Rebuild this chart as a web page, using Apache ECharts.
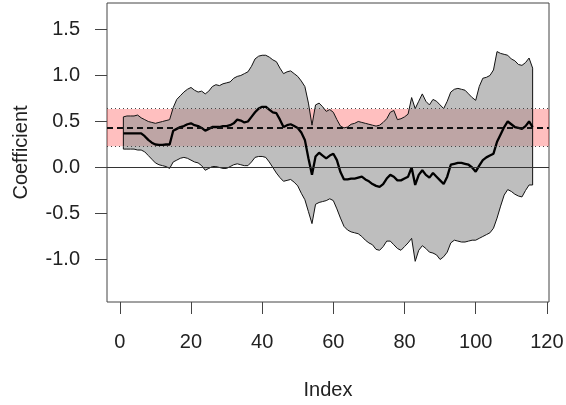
<!DOCTYPE html>
<html>
<head>
<meta charset="utf-8">
<script src="https://cdn.jsdelivr.net/npm/echarts@6/dist/echarts.min.js"></script>
<style>
  html, body { margin: 0; padding: 0; background: #fff; }
  #main { width: 566px; height: 405px; }
</style>
</head>
<body>
<div id="main"></div>
<script>
// values, index 1..116
var coef = [
    0.37, 0.37, 0.37, 0.37, 0.37, 0.37, 0.34, 0.30, 0.27, 0.25,
    0.245, 0.245, 0.25, 0.25, 0.40, 0.42, 0.44, 0.45, 0.47, 0.48,
    0.46, 0.45, 0.43, 0.40, 0.42, 0.44, 0.44, 0.44, 0.45, 0.45,
    0.46, 0.48, 0.52, 0.51, 0.49, 0.50, 0.55, 0.60, 0.64, 0.66,
    0.66, 0.63, 0.60, 0.59, 0.52, 0.44, 0.46, 0.47, 0.45, 0.43,
    0.38, 0.30, 0.10, -0.08, 0.12, 0.16, 0.13, 0.10, 0.13, 0.15,
    0.08, -0.05, -0.13, -0.13, -0.12, -0.12, -0.11, -0.10, -0.13, -0.15,
    -0.18, -0.20, -0.21, -0.18, -0.12, -0.08, -0.10, -0.14, -0.14, -0.12,
    -0.10, 0.00, -0.19, -0.08, -0.03, -0.08, -0.11, -0.06, -0.10, -0.14,
    -0.18, -0.10, 0.03, 0.04, 0.05, 0.05, 0.04, 0.03, 0.00, -0.045,
    0.02, 0.08, 0.11, 0.13, 0.15, 0.28, 0.36, 0.44, 0.50, 0.47,
    0.44, 0.43, 0.42, 0.45, 0.50, 0.44
];
var upper = [
    0.55, 0.56, 0.56, 0.56, 0.57, 0.54, 0.52, 0.50, 0.49, 0.48,
    0.49, 0.50, 0.51, 0.52, 0.65, 0.74, 0.78, 0.82, 0.85, 0.87,
    0.84, 0.82, 0.83, 0.80, 0.83, 0.88, 0.90, 0.89, 0.91, 0.92,
    0.93, 0.97, 0.99, 1.00, 1.02, 1.04, 1.10, 1.18, 1.21, 1.22,
    1.22, 1.20, 1.17, 1.15, 1.08, 1.02, 1.04, 1.05, 1.02, 0.99,
    0.94, 0.88, 0.70, 0.46, 0.68, 0.70, 0.66, 0.61, 0.63, 0.60,
    0.52, 0.45, 0.43, 0.44, 0.47, 0.48, 0.50, 0.49, 0.48, 0.47,
    0.46, 0.45, 0.46, 0.49, 0.53, 0.60, 0.62, 0.52, 0.53, 0.55,
    0.58, 0.76, 0.64, 0.72, 0.80, 0.72, 0.68, 0.74, 0.72, 0.68,
    0.64, 0.72, 0.82, 0.85, 0.86, 0.85, 0.84, 0.80, 0.76, 0.73,
    0.88, 0.97, 0.98, 1.00, 1.06, 1.26, 1.24, 1.23, 1.22, 1.18,
    1.16, 1.12, 1.11, 1.14, 1.19, 1.08
];
var lower = [
    0.20, 0.20, 0.20, 0.20, 0.19, 0.19, 0.17, 0.13, 0.09, 0.05,
    0.03, 0.02, 0.01, -0.01, 0.06, 0.08, 0.10, 0.11, 0.10, 0.08,
    0.06, 0.05, 0.02, -0.03, -0.01, 0.01, 0.01, 0.00, -0.01, -0.01,
    0.01, 0.03, 0.04, 0.03, 0.02, 0.02, 0.06, 0.11, 0.12, 0.12,
    0.11, 0.06, 0.00, -0.06, -0.11, -0.15, -0.14, -0.13, -0.16, -0.20,
    -0.28, -0.35, -0.48, -0.61, -0.40, -0.38, -0.37, -0.36, -0.34, -0.36,
    -0.45, -0.55, -0.64, -0.68, -0.70, -0.71, -0.72, -0.75, -0.79, -0.82,
    -0.84, -0.89, -0.90, -0.86, -0.80, -0.80, -0.84, -0.88, -0.90, -0.86,
    -0.82, -0.77, -1.02, -0.90, -0.85, -0.88, -0.92, -0.93, -0.95, -1.00,
    -0.97, -0.92, -0.82, -0.79, -0.80, -0.81, -0.81, -0.80, -0.79, -0.79,
    -0.77, -0.75, -0.73, -0.71, -0.66, -0.55, -0.42, -0.30, -0.24, -0.26,
    -0.29, -0.31, -0.32, -0.25, -0.19, -0.19
];
var bandLow = 0.23;
var bandHigh = 0.635;
var bandMean = 0.433;
var xTicks = [0, 20, 40, 60, 80, 100, 120];
var yTicks = [-1.0, -0.5, 0.0, 0.5, 1.0, 1.5];

var index = coef.map(function (v, i) { return i + 1; });
var coefData = coef.map(function (v, i) { return [index[i], v]; });

var chart = echarts.init(document.getElementById('main'));

var font = "'Liberation Sans', Arial, sans-serif";

var option = {
    animation: false,
    grid: {
        left: 107, right: 17, top: 3, bottom: 103,
        outerBoundsMode: 'none',
        show: true,
        borderColor: '#444',
        borderWidth: 1,
        backgroundColor: 'transparent'
    },
    xAxis: {
        type: 'value',
        min: -3.6,
        max: 120.6,
        name: 'Index',
        nameLocation: 'middle',
        nameGap: 78,
        nameTextStyle: { fontFamily: font, fontSize: 20, color: '#222' },
        axisLine: { show: false, onZero: false },
        splitLine: { show: false },
        axisTick: {
            show: true, inside: false, length: 12,
            customValues: xTicks,
            lineStyle: { color: '#444', width: 1 }
        },
        axisLabel: {
            customValues: xTicks,
            margin: 30,
            fontFamily: font, fontSize: 20, color: '#222'
        }
    },
    yAxis: {
        type: 'value',
        min: -1.462,
        max: 1.788,
        name: 'Coefficient',
        nameLocation: 'middle',
        nameGap: 76,
        nameRotate: 90,
        nameTextStyle: { fontFamily: font, fontSize: 20, color: '#222' },
        axisLine: { show: false, onZero: false },
        splitLine: { show: false },
        axisTick: {
            show: true, inside: false, length: 12,
            customValues: yTicks,
            lineStyle: { color: '#444', width: 1 }
        },
        axisLabel: {
            customValues: yTicks,
            margin: 27,
            fontFamily: font, fontSize: 20, color: '#222',
            formatter: function (v) { return v.toFixed(1); }
        }
    },
    series: [
        {
            // pink reference band under everything
            type: 'line',
            data: [],
            z: 1,
            markArea: {
                silent: true,
                itemStyle: { color: 'rgba(255,0,0,0.25)' },
                data: [[{ yAxis: bandLow }, { yAxis: bandHigh }]]
            }
        },
        {
            // grey confidence polygon
            type: 'custom',
            z: 2,
            data: [[index[0], coef[0]]],
            renderItem: function (params, api) {
                var pts = [];
                for (var i = 0; i < index.length; i++) {
                    pts.push(api.coord([index[i], upper[i]]));
                }
                for (var j = index.length - 1; j >= 0; j--) {
                    pts.push(api.coord([index[j], lower[j]]));
                }
                return {
                    type: 'polygon',
                    shape: { points: pts },
                    style: { fill: 'rgba(148,148,148,0.61)', stroke: '#111', lineWidth: 1 }
                };
            }
        },
        {
            type: 'line',
            z: 3,
            data: coefData,
            showSymbol: false,
            lineStyle: { color: '#000', width: 2.3 },
            markLine: {
                silent: true,
                symbol: 'none',
                label: { show: false },
                data: [
                    { yAxis: 0, lineStyle: { type: 'solid', color: '#333', width: 1.2 } },
                    { yAxis: bandLow, lineStyle: { type: [1, 3], color: '#444', width: 1 } },
                    { yAxis: bandHigh, lineStyle: { type: [1, 3], color: '#444', width: 1 } },
                    { yAxis: bandMean, lineStyle: { type: [6, 4], color: '#111', width: 2 } }
                ]
            }
        }
    ]
};

chart.setOption(option);
</script>
</body>
</html>
